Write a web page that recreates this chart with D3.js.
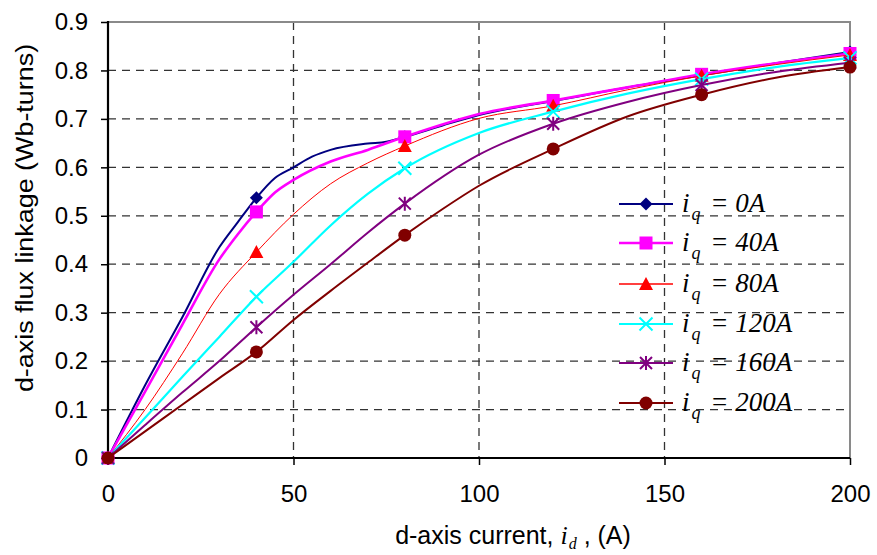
<!DOCTYPE html>
<html>
<head>
<meta charset="utf-8">
<script src="https://cdn.jsdelivr.net/npm/d3@7"></script>
<style>
  html, body { margin: 0; padding: 0; background: #fff; }
  svg { display: block; }
</style>
</head>
<body>
<svg id="chart" width="877" height="555"></svg>
<script>
// ---------- data ----------
const xTicks = [0, 50, 100, 150, 200];
const yTicks = [0, 0.1, 0.2, 0.3, 0.4, 0.5, 0.6, 0.7, 0.8, 0.9];
const markerX = [0, 40, 80, 120, 160, 200];
const legendLabels = ["0A", "40A", "80A", "120A", "160A", "200A"];

const iq0_x = [0, 10, 20, 30, 35, 40, 45, 50, 55, 60, 70, 75, 80, 90, 100, 120, 140, 160, 180, 200];
const iq0_y = [0, 0.15, 0.29, 0.435, 0.487, 0.537, 0.578, 0.6, 0.622, 0.636, 0.649, 0.653, 0.663, 0.686, 0.708, 0.737, 0.765, 0.79, 0.815, 0.838];

const iq40_x = [0, 10, 20, 30, 35, 40, 45, 50, 60, 70, 80, 100, 120, 140, 160, 180, 200];
const iq40_y = [0, 0.137, 0.275, 0.41, 0.462, 0.508, 0.548, 0.574, 0.612, 0.636, 0.663, 0.71, 0.738, 0.765, 0.792, 0.815, 0.835];

const iq80_x = [0, 10, 20, 30, 40, 50, 60, 70, 80, 100, 120, 140, 160, 180, 200];
const iq80_y = [0, 0.1, 0.215, 0.338, 0.425, 0.503, 0.566, 0.609, 0.644, 0.701, 0.727, 0.76, 0.789, 0.812, 0.832];

const iq120_x = [0, 10, 20, 30, 40, 50, 60, 70, 80, 100, 120, 140, 160, 180, 200];
const iq120_y = [0, 0.083, 0.167, 0.25, 0.333, 0.405, 0.48, 0.545, 0.598, 0.671, 0.715, 0.752, 0.782, 0.807, 0.826];

const iq160_x = [0, 10, 20, 30, 40, 50, 60, 70, 80, 100, 120, 140, 160, 180, 200];
const iq160_y = [0, 0.068, 0.135, 0.2, 0.27, 0.337, 0.4, 0.465, 0.525, 0.626, 0.69, 0.735, 0.77, 0.797, 0.816];

const iq200_x = [0, 10, 20, 30, 40, 50, 60, 70, 80, 90, 100, 120, 140, 160, 180, 200];
const iq200_y = [0, 0.055, 0.11, 0.165, 0.219, 0.285, 0.345, 0.403, 0.46, 0.513, 0.562, 0.638, 0.705, 0.75, 0.785, 0.807];

const seriesX = [iq0_x, iq40_x, iq80_x, iq120_x, iq160_x, iq200_x];
const seriesY = [iq0_y, iq40_y, iq80_y, iq120_y, iq160_y, iq200_y];
const colors = ["#000080", "#FF00FF", "#FF0000", "#00FFFF", "#800080", "#800000"];
const widths = [2, 2.6, 1, 2.2, 2, 2];
const markerTypes = ["diamond", "square", "triangle", "x", "star", "circle"];

// ---------- layout ----------
const svg = d3.select("#chart");
const L = 108, R = 850, T = 22, B = 458;
const x = d3.scaleLinear().domain([0, 200]).range([L, R]);
const y = d3.scaleLinear().domain([0, 0.9]).range([B, T]);

// gridlines
const grid = svg.append("g");
grid.selectAll("line.h").data(yTicks.filter(d => d > 0 && d < 0.9)).join("line")
  .attr("x1", L).attr("x2", R).attr("y1", d => y(d)).attr("y2", d => y(d))
  .attr("stroke", "#333").attr("stroke-width", 1.3).attr("stroke-dasharray", "8,6");
grid.selectAll("line.v").data(xTicks.filter(d => d > 0 && d < 200)).join("line")
  .attr("x1", d => x(d)).attr("x2", d => x(d)).attr("y1", T).attr("y2", B)
  .attr("stroke", "#333").attr("stroke-width", 1.3).attr("stroke-dasharray", "8,6");

// plot border (top, right) gray
svg.append("path").attr("d", `M${L},${T}H${R}V${B}`)
  .attr("fill", "none").attr("stroke", "#8a8a8a").attr("stroke-width", 2);

// axes
const yAxis = d3.axisLeft(y).tickValues(yTicks).tickSize(7).tickPadding(13)
  .tickFormat(d => d === 0 ? "0" : d3.format(".1f")(d));
const gy = svg.append("g").attr("transform", `translate(${L},0)`).call(yAxis);
gy.select(".domain").remove();
gy.selectAll(".tick line").attr("stroke", "#000").attr("stroke-width", 1.5);
gy.selectAll("text").attr("font-family", "Arial, 'Liberation Sans', sans-serif").attr("font-size", 24).attr("fill", "#000");

const xAxis = d3.axisBottom(x).tickValues(xTicks).tickSize(7).tickPadding(20).tickFormat(d3.format("d"));
const gx = svg.append("g").attr("transform", `translate(0,${B})`).call(xAxis);
gx.select(".domain").remove();
gx.selectAll(".tick line").attr("stroke", "#000").attr("stroke-width", 1.5);
gx.selectAll("text").attr("font-family", "Arial, 'Liberation Sans', sans-serif").attr("font-size", 24).attr("fill", "#000");

svg.append("line").attr("x1", L).attr("x2", L).attr("y1", T - 1).attr("y2", B + 1).attr("stroke", "#000").attr("stroke-width", 2.2);
svg.append("line").attr("x1", L - 1).attr("x2", R).attr("y1", B).attr("y2", B).attr("stroke", "#000").attr("stroke-width", 2.2);

// markers
function drawMarker(g, type, cx, cy, color, s) {
  s = s || 1;
  if (type === "diamond") {
    const r = 6.5 * s;
    g.append("path").attr("d", `M${cx},${cy - r}L${cx + r},${cy}L${cx},${cy + r}L${cx - r},${cy}Z`).attr("fill", color);
  } else if (type === "square") {
    const h = 6.5 * s;
    g.append("rect").attr("x", cx - h).attr("y", cy - h).attr("width", 2 * h).attr("height", 2 * h).attr("fill", color);
  } else if (type === "triangle") {
    const h = 7 * s;
    g.append("path").attr("d", `M${cx},${cy - h}L${cx + h},${cy + h * 0.85}L${cx - h},${cy + h * 0.85}Z`).attr("fill", color);
  } else if (type === "x") {
    const h = 6.5 * s;
    g.append("path").attr("d", `M${cx - h},${cy - h}L${cx + h},${cy + h}M${cx - h},${cy + h}L${cx + h},${cy - h}`)
      .attr("stroke", color).attr("stroke-width", 2).attr("fill", "none");
  } else if (type === "star") {
    const h = 6 * s;
    g.append("path").attr("d", `M${cx - h},${cy - h}L${cx + h},${cy + h}M${cx - h},${cy + h}L${cx + h},${cy - h}M${cx},${cy - h - 1}L${cx},${cy + h + 1}`)
      .attr("stroke", color).attr("stroke-width", 2).attr("fill", "none");
  } else if (type === "circle") {
    g.append("circle").attr("cx", cx).attr("cy", cy).attr("r", 6.5 * s).attr("fill", color);
  }
}

// series
const line = d3.line().x(d => x(d[0])).y(d => y(d[1])).curve(d3.curveMonotoneX);
const plot = svg.append("g");
seriesX.forEach((xs, i) => {
  const pts = xs.map((v, j) => [v, seriesY[i][j]]);
  const g = plot.append("g");
  g.append("path").datum(pts).attr("d", line)
    .attr("fill", "none").attr("stroke", colors[i]).attr("stroke-width", widths[i]).attr("stroke-linejoin", "round");
  pts.filter(p => markerX.includes(p[0])).forEach(p => drawMarker(g, markerTypes[i], x(p[0]), y(p[1]), colors[i]));
});

// legend
const legendRows = [204, 243, 284, 324, 363, 403];
const lg = svg.append("g");
legendLabels.forEach((lab, i) => {
  const ry = legendRows[i];
  lg.append("line").attr("x1", 619).attr("x2", 673).attr("y1", ry).attr("y2", ry)
    .attr("stroke", colors[i]).attr("stroke-width", Math.max(widths[i], 1.3));
  drawMarker(lg, markerTypes[i], 646, ry, colors[i]);
  const t = lg.append("text").attr("x", 682).attr("y", ry + 8)
    .attr("font-family", "'Times New Roman', 'Liberation Serif', serif").attr("font-style", "italic")
    .attr("font-size", 27).attr("fill", "#000");
  t.append("tspan").text("i");
  t.append("tspan").attr("font-size", 18).attr("dy", 8).attr("dx", 2).text("q");
  t.append("tspan").attr("dy", -8).attr("dx", 3).text("\u00a0=\u00a0" + lab);
});

// axis titles
svg.append("text")
  .attr("transform", "translate(33,218) rotate(-90) scale(1.17,1)")
  .attr("text-anchor", "middle")
  .attr("font-family", "Arial, 'Liberation Sans', sans-serif").attr("font-size", 23).attr("fill", "#000")
  .text("d-axis flux linkage (Wb-turns)");

const xt = svg.append("text").attr("x", 513).attr("y", 544).attr("text-anchor", "middle")
  .attr("font-family", "Arial, 'Liberation Sans', sans-serif").attr("font-size", 25).attr("fill", "#000");
xt.append("tspan").text("d-axis current,\u00a0");
xt.append("tspan").attr("font-family", "'Times New Roman', 'Liberation Serif', serif").attr("font-style", "italic").attr("font-size", 26).text("i");
xt.append("tspan").attr("font-family", "'Times New Roman', 'Liberation Serif', serif").attr("font-style", "italic").attr("font-size", 16).attr("dy", 5).attr("dx", 1).text("d");
xt.append("tspan").attr("dy", -5).text("\u00a0, (A)");
</script>
</body>
</html>
